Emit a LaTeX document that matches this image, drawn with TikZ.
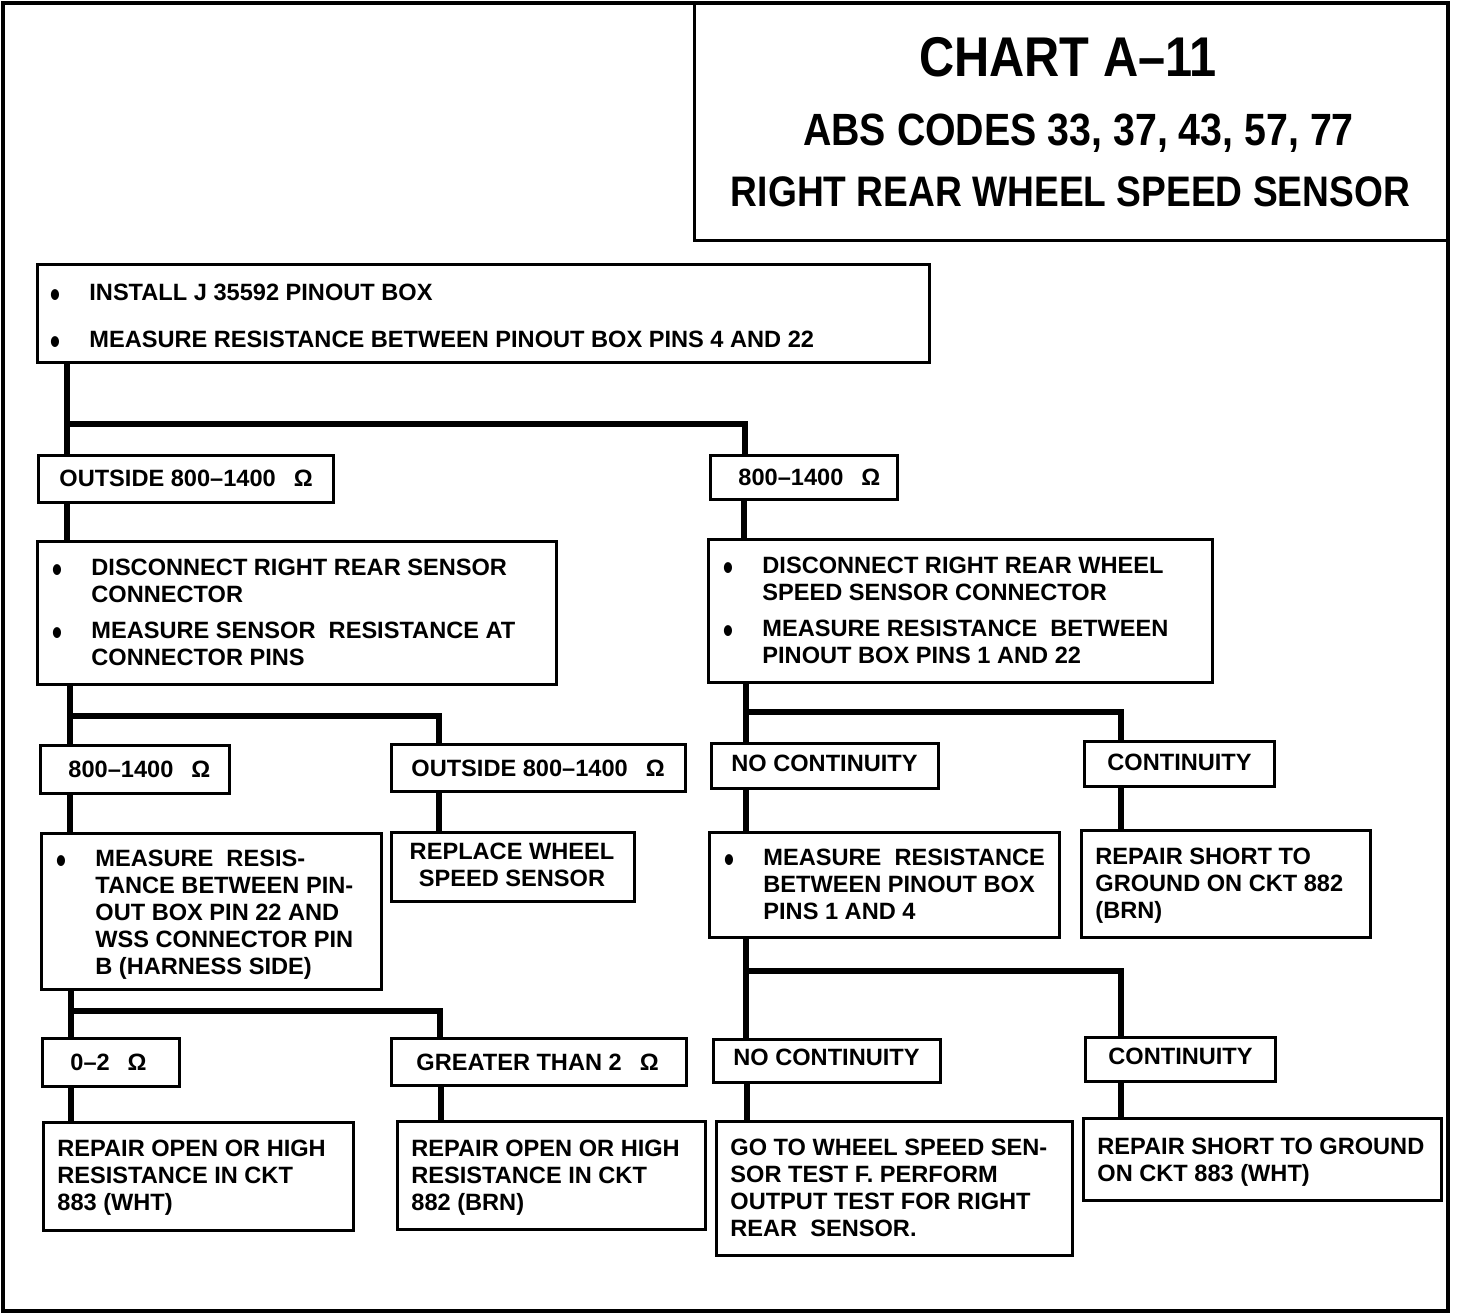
\documentclass[tikz,border=0pt]{standalone}
\usepackage{fontspec}
\setmainfont{Liberation Sans}
\usepackage{graphicx}
\usetikzlibrary{fit}
\newcommand\bul{\leavevmode\llap{\raisebox{-3.6pt}{\scalebox{1.2}[1.6]{\textbullet}}\hspace{14.6pt}}}
\newcommand\om{\hspace{9pt}Ω}
\tikzset{
  box/.style={draw, line width=1.5pt, inner sep=0pt},
  conn/.style={line width=2.6pt, line join=miter},
  txt/.style={inner sep=0pt, anchor=base west, font=\bfseries\fontsize{11.8}{13.5}\selectfont},
  ttl/.style={inner sep=0pt, anchor=base, font=\bfseries},
}
\newcommand\bx[5]{\node[box, fit={(#2,#3) (#4,#5)}] (#1) {};}
\newcommand\tx[4]{\node[txt] (#1) at (#2,#3) {\parbox[t]{460pt}{\raggedright #4}};}
\begin{document}
\begin{tikzpicture}[x=0.5pt,y=-0.5pt]
\useasboundingbox (0,0) rectangle (1472,1316);
% frame and title box
\draw[line width=1.6pt] (3,3) rectangle (1448,1311);
\node[box, fit={(694,3) (1448,241)}] (title) {};
\node[ttl, font=\bfseries\fontsize{28}{28}\selectfont] (tt1) at (1068,77) {\scalebox{0.87}[1]{CHART A–11}};
\node[ttl, font=\bfseries\fontsize{22.6}{22.6}\selectfont] (tt2) at (1078.5,146) {\scalebox{0.87}[1]{ABS CODES 33, 37, 43, 57, 77}};
\node[ttl, font=\bfseries\fontsize{21.35}{21.35}\selectfont] (tt3) at (1070.5,207) {\scalebox{0.87}[1]{RIGHT REAR WHEEL SPEED SENSOR}};
% boxes
\bx{b1}{37}{265}{929}{362}
\bx{b2}{38}{455}{333}{502}
\bx{b3}{710}{455}{897}{499}
\bx{b4}{37}{541}{556}{684}
\bx{b5}{708}{539}{1212}{682}
\bx{b6}{40}{745}{229}{793}
\bx{b7}{391}{744}{685}{791}
\bx{b8}{41}{833}{381}{989}
\bx{b9}{391}{832}{634}{901}
\bx{b10}{42}{1038}{179}{1086}
\bx{b11}{391}{1038}{686}{1085}
\bx{b12}{43}{1122}{353}{1230}
\bx{b13}{397}{1121}{705}{1229}
\bx{b14}{711}{743}{938}{788}
\bx{b15}{1084}{741}{1274}{786}
\bx{b16}{709}{832}{1059}{937}
\bx{b17}{1081}{830}{1370}{937}
\bx{b18}{713}{1039}{940}{1082}
\bx{b19}{1085}{1037}{1275}{1081}
\bx{b20}{716}{1121}{1072}{1255}
\bx{b21}{1083}{1118}{1441}{1200}
% texts
\tx{t1}{89}{300.5}{\bul INSTALL J 35592 PINOUT BOX\\[10pt]\bul MEASURE RESISTANCE BETWEEN PINOUT BOX PINS 4 AND 22}
\tx{t2}{59}{486.5}{OUTSIDE 800–1400\om}
\tx{t3}{738}{485.5}{800–1400\om}
\tx{t4}{91}{575.5}{\bul DISCONNECT RIGHT REAR SENSOR\\CONNECTOR\\[4.5pt]\bul MEASURE SENSOR~ RESISTANCE AT\\CONNECTOR PINS}
\tx{t5}{762}{573.5}{\bul DISCONNECT RIGHT REAR WHEEL\\SPEED SENSOR CONNECTOR\\[4.5pt]\bul MEASURE RESISTANCE~ BETWEEN\\PINOUT BOX PINS 1 AND 22}
\tx{t6}{68}{777.5}{800–1400\om}
\tx{t7}{411}{776.5}{OUTSIDE 800–1400\om}
\tx{t8}{95}{866.5}{\bul MEASURE~ RESIS-\\TANCE BETWEEN PIN-\\OUT BOX PIN 22 AND\\WSS CONNECTOR PIN\\B (HARNESS SIDE)}
\node[txt, anchor=base] (t9) at (512,859.5) {\parbox[t]{200pt}{\centering REPLACE WHEEL\\SPEED SENSOR}};
\tx{t10}{70}{1070.5}{0–2\om}
\tx{t11}{416}{1070.5}{GREATER THAN 2\om}
\tx{t12}{57}{1156.5}{REPAIR OPEN OR HIGH\\RESISTANCE IN CKT\\883 (WHT)}
\tx{t13}{411}{1156.5}{REPAIR OPEN OR HIGH\\RESISTANCE IN CKT\\882 (BRN)}
\tx{t14}{731}{771.5}{NO CONTINUITY}
\tx{t15}{1107}{770.5}{CONTINUITY}
\tx{t16}{763}{865.5}{\bul MEASURE~ RESISTANCE\\BETWEEN PINOUT BOX\\PINS 1 AND 4}
\tx{t17}{1095}{864.5}{REPAIR SHORT TO\\GROUND ON CKT 882\\(BRN)}
\tx{t18}{733}{1065.5}{NO CONTINUITY}
\tx{t19}{1108}{1064.5}{CONTINUITY}
\tx{t20}{730}{1155.5}{GO TO WHEEL SPEED SEN-\\SOR TEST F. PERFORM\\OUTPUT TEST FOR RIGHT\\REAR~ SENSOR.}
\tx{t21}{1097}{1154.5}{REPAIR SHORT TO GROUND\\ON CKT 883 (WHT)}
% connectors
\coordinate (j1) at (67,424);   \coordinate (k1) at (745,0);
\coordinate (v2) at (67,0);     \coordinate (v3) at (744,0);
\coordinate (j2) at (70,716);   \coordinate (k2) at (439,0);
\coordinate (j3) at (71,1011);  \coordinate (k3) at (440,0);
\coordinate (v10) at (71,0);    \coordinate (v11) at (441,0);
\coordinate (j4) at (746,712);  \coordinate (k4) at (1121,0);
\coordinate (j5) at (746,971);  \coordinate (v18) at (747,0);
\draw[conn] (b1.south -| j1) -- (b2.north -| j1);
\draw[conn] (j1) -| (b3.north -| k1);
\draw[conn] (b2.south -| v2) -- (b4.north -| v2);
\draw[conn] (b3.south -| v3) -- (b5.north -| v3);
\draw[conn] (b4.south -| j2) -- (b6.north -| j2);
\draw[conn] (j2) -| (b7.north -| k2);
\draw[conn] (b6.south -| j2) -- (b8.north -| j2);
\draw[conn] (b7.south -| k2) -- (b9.north -| k2);
\draw[conn] (b8.south -| j3) -- (b10.north -| j3);
\draw[conn] (j3) -| (b11.north -| k3);
\draw[conn] (b10.south -| v10) -- (b12.north -| v10);
\draw[conn] (b11.south -| v11) -- (b13.north -| v11);
\draw[conn] (b5.south -| j4) -- (b14.north -| j4);
\draw[conn] (j4) -| (b15.north -| k4);
\draw[conn] (b14.south -| j4) -- (b16.north -| j4);
\draw[conn] (b15.south -| k4) -- (b17.north -| k4);
\draw[conn] (b16.south -| j5) -- (b18.north -| j5);
\draw[conn] (j5) -| (b19.north -| k4);
\draw[conn] (b18.south -| v18) -- (b20.north -| v18);
\draw[conn] (b19.south -| k4) -- (b21.north -| k4);
\end{tikzpicture}
\end{document}
